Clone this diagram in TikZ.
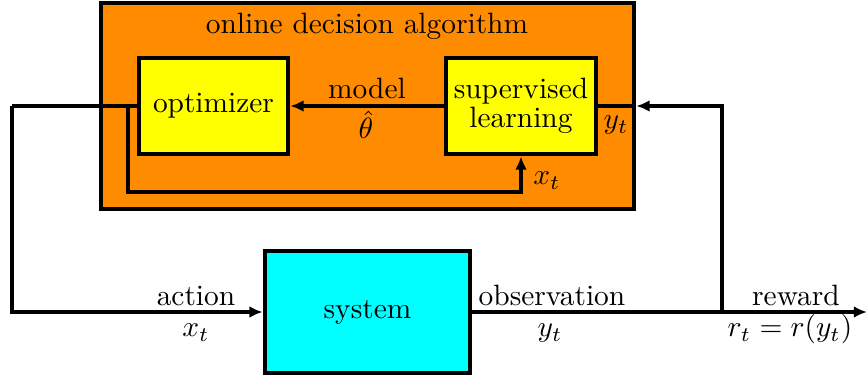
\documentclass[tikz,border=0pt]{standalone}
\usetikzlibrary{arrows.meta}
\definecolor{algorange}{RGB}{255,140,0}
\definecolor{sysCyan}{RGB}{0,255,255}
\definecolor{boxYellow}{RGB}{255,255,0}
\begin{document}
\begin{tikzpicture}[x=0.34pt,y=-0.34pt,
  box/.style={draw=black,line width=1.6pt,inner sep=0pt,align=center},
  conn/.style={draw=black,line width=1.15pt},
  arr/.style={conn,-{Latex[length=4.5pt,width=4pt]}},
  lbl/.style={inner sep=0pt,anchor=base}]
\useasboundingbox (0,0) rectangle (867,376);
\node[box,fill=algorange,minimum width=533*0.34pt,minimum height=206*0.34pt] (alg) at (367.5,106) {};
\node[lbl] (algt) at (367,34) {online decision algorithm};
\node[box,fill=boxYellow,minimum width=149*0.34pt,minimum height=96*0.34pt] (opt) at (213.5,106) {optimizer};
\node[box,fill=boxYellow,minimum width=150*0.34pt,minimum height=96*0.34pt] (sl) at (521,106) {supervised\\[-2pt]learning};
\node[box,fill=sysCyan,minimum width=205*0.34pt,minimum height=122*0.34pt] (sys) at (367.5,312) {system};
\coordinate (c1) at (12,106);
\coordinate (b1) at (128,106);
\coordinate (b2) at (128,192);
\coordinate (b3) at (722,312);
\coordinate (out) at (867,312);
\draw[arr] (sl.west) -- (opt.east);
\draw[conn] (opt.west) -- (c1);
\draw[arr] (c1) |- (sys.west);
\draw[arr] (b1) -- (b2) -| (sl.south);
\draw[conn] (sl.east) -- (alg.east);
\draw[arr] (sys.east) -- (out);
\draw[arr] (b3) |- (alg.east);
\node[lbl] (model) at (367,99) {model};
\node[lbl] (theta) at (366,139) {$\hat\theta$};
\node[lbl] (yt1) at (616,129) {$y_t$};
\node[lbl] (xt1) at (547,185) {$x_t$};
\node[lbl] (action) at (196,306) {action};
\node[lbl] (xt2) at (196,337) {$x_t$};
\node[lbl] (obs) at (552,306) {observation};
\node[lbl] (yt2) at (550,337) {$y_t$};
\node[lbl] (rew) at (796,306) {reward};
\node[lbl] (rt) at (790,337) {$r_t=r(y_t)$};
\end{tikzpicture}
\end{document}
